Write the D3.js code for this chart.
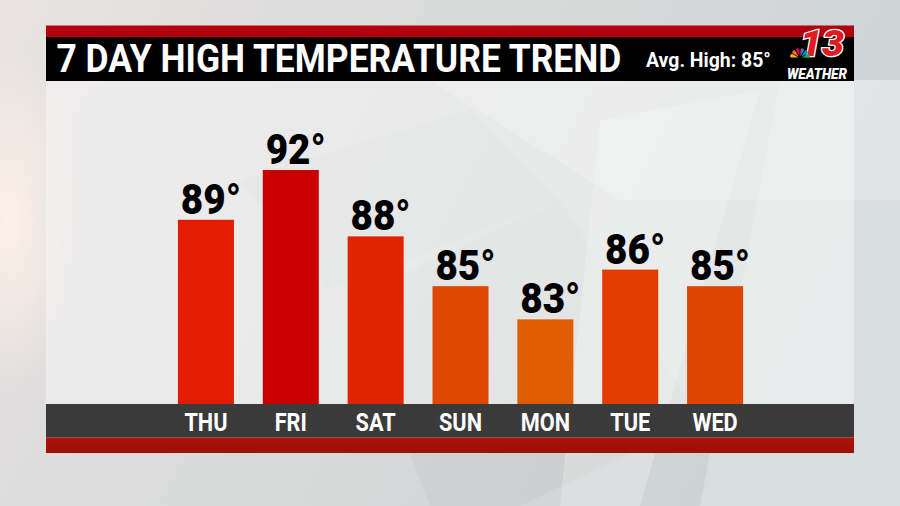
<!DOCTYPE html>
<html><head><meta charset="utf-8">
<script src="https://cdn.jsdelivr.net/npm/d3@7"></script>
<style>html,body{margin:0;padding:0;background:#d6d9d9;overflow:hidden}svg{display:block}</style>
</head><body>
<svg id="chart" width="900" height="506"></svg>
<script>
const days = ["THU", "FRI", "SAT", "SUN", "MON", "TUE", "WED"];
const highs = [89, 92, 88, 85, 83, 86, 85];
const barColors = ["#e21c00", "#c80000", "#e02400", "#e04700", "#e05c00", "#e03b00", "#e04500"];
const titleText = "7 DAY HIGH TEMPERATURE TREND";
const avgHigh = 85;
const logoNumber = "13";
const logoWord = "WEATHER";
const peacockColors = ["#fcb711", "#f37021", "#cc004c", "#6460aa", "#0089d0", "#0db14b"];

const W = 900, H = 506;
const svg = d3.select("#chart");
const defs = svg.append("defs");

// squeeze a text horizontally to a target width (left-anchored at x)
function fitLeft(sel, x, y, width) {
  const len = sel.node().getComputedTextLength();
  const sx = width / len;
  sel.attr("x", 0).attr("y", 0).attr("transform", `translate(${x},${y}) scale(${sx},1)`);
}

// background gradient
const bg = defs.append("linearGradient").attr("id", "bg").attr("x1", 0).attr("y1", 0).attr("x2", 1).attr("y2", 0.3);
bg.append("stop").attr("offset", "0").attr("stop-color", "#e9e4e2");
bg.append("stop").attr("offset", "0.35").attr("stop-color", "#dcdcdc");
bg.append("stop").attr("offset", "1").attr("stop-color", "#cdd3d3");
const glow = defs.append("radialGradient").attr("id", "glow").attr("cx", 0.5).attr("cy", 0.5).attr("r", 0.5);
glow.append("stop").attr("offset", "0").attr("stop-color", "#fff1e8").attr("stop-opacity", 0.95);
glow.append("stop").attr("offset", "1").attr("stop-color", "#fff1e8").attr("stop-opacity", 0);
const redGrad = defs.append("linearGradient").attr("id", "redband").attr("x1", 0).attr("y1", 0).attr("x2", 0).attr("y2", 1);
redGrad.append("stop").attr("offset", "0").attr("stop-color", "#b01208");
redGrad.append("stop").attr("offset", "1").attr("stop-color", "#9a1008");

svg.append("rect").attr("width", W).attr("height", H).attr("fill", "url(#bg)");
svg.append("ellipse").attr("cx", 10).attr("cy", 220).attr("rx", 70).attr("ry", 170).attr("fill", "url(#glow)");

// abstract background planes
const planes = [
  {pts: [[430, 80], [900, 80], [900, 200], [620, 200]], c: "#ffffff", o: 0.25},
  {pts: [[240, 180], [470, 110], [560, 200], [330, 290]], c: "#c9cccc", o: 0.35},
  {pts: [[350, 300], [560, 200], [700, 420], [520, 506], [430, 506]], c: "#bfc3c3", o: 0.3},
  {pts: [[780, 80], [900, 80], [900, 506], [700, 506]], c: "#eef1f1", o: 0.35},
  {pts: [[600, 120], [760, 90], [640, 506], [560, 506]], c: "#ffffff", o: 0.25}
];
svg.append("g").selectAll("polygon").data(planes).join("polygon")
  .attr("points", d => d.pts.map(p => p.join(",")).join(" "))
  .attr("fill", d => d.c).attr("opacity", d => d.o);

// content panel
const panelX0 = 46, panelX1 = 854;
svg.append("rect").attr("x", panelX0).attr("y", 80).attr("width", panelX1 - panelX0).attr("height", 324)
  .attr("fill", "#f6f6f6").attr("opacity", 0.55);

// header
svg.append("rect").attr("x", panelX0).attr("y", 25.5).attr("width", panelX1 - panelX0).attr("height", 12).attr("fill", "#b3000f");
svg.append("rect").attr("x", panelX0).attr("y", 37).attr("width", panelX1 - panelX0).attr("height", 44).attr("fill", "#000000");
const titleSel = svg.append("text")
  .attr("font-family", "Roboto, 'Liberation Sans', sans-serif").attr("font-weight", 700)
  .attr("font-size", 38.5).attr("fill", "#ffffff")
  .text(titleText);
fitLeft(titleSel, 56.5, 72, 565);
const avgSel = svg.append("text")
  .attr("font-family", "Roboto, 'Liberation Sans', sans-serif").attr("font-weight", 700)
  .attr("font-size", 21).attr("fill", "#ffffff")
  .text(`Avg. High: ${avgHigh}°`);
fitLeft(avgSel, 646, 66.5, 125);

// logo
const logo = svg.append("g");
const numSel = logo.append("text")
  .attr("font-family", "Roboto, sans-serif").attr("font-weight", 900).attr("font-style", "italic")
  .attr("font-size", 36).attr("fill", "#e01a22").attr("stroke", "#ffffff").attr("stroke-width", 2.5)
  .attr("paint-order", "stroke")
  .text(logoNumber);
fitLeft(numSel, 800, 56, 44);
const fan = d3.pie().value(1).startAngle(-Math.PI / 2).endAngle(Math.PI / 2).sort(null)(peacockColors);
logo.append("g").attr("transform", "translate(800,58)")
  .selectAll("path").data(fan).join("path")
  .attr("d", d3.arc().innerRadius(2).outerRadius(10).padAngle(0.08).cornerRadius(3))
  .attr("fill", d => d.data);
const wordSel = logo.append("text")
  .attr("font-family", "Roboto, sans-serif").attr("font-weight", 900).attr("font-style", "italic")
  .attr("font-size", 14.5).attr("fill", "#ffffff")
  .text(logoWord);
fitLeft(wordSel, 787, 78.5, 60);

// scales
const x = d3.scaleBand().domain(days).range([163.5, 757.5]).paddingInner(0.34).paddingOuter(0.17);
const y = d3.scaleLinear().domain([77.9, 92]).range([404, 170]);

// bars
svg.append("g").selectAll("rect").data(days).join("rect")
  .attr("x", d => x(d)).attr("width", x.bandwidth())
  .attr("y", (d, i) => y(highs[i])).attr("height", (d, i) => 404 - y(highs[i]))
  .attr("fill", (d, i) => barColors[i]);

// value labels
svg.append("g").selectAll("text").data(days).join("text")
  .attr("transform", (d, i) => `translate(${x(d) + x.bandwidth() / 2 + 5},${y(highs[i]) - 6}) scale(0.9,1)`)
  .attr("text-anchor", "middle")
  .attr("font-family", "Roboto, 'Liberation Sans', sans-serif").attr("font-weight", 900)
  .attr("font-size", 43).attr("fill", "#000000")
  .text((d, i) => `${highs[i]}°`);

// bottom bands
svg.append("rect").attr("x", panelX0).attr("y", 404).attr("width", panelX1 - panelX0).attr("height", 33.5).attr("fill", "#3a3a3a");
svg.append("rect").attr("x", panelX0).attr("y", 437.5).attr("width", panelX1 - panelX0).attr("height", 15.5).attr("fill", "url(#redband)");

// day axis labels
const axisG = svg.append("g").attr("transform", "translate(0,431)")
  .call(d3.axisBottom(x).tickSize(0).tickPadding(0));
axisG.select(".domain").remove();
axisG.selectAll(".tick text")
  .attr("y", 0).attr("dy", 0)
  .attr("font-family", "Roboto, 'Liberation Sans', sans-serif").attr("font-weight", 700)
  .attr("font-size", 26.5).attr("fill", "#ffffff")
  .attr("transform", "scale(0.82,1)");
</script>
</body></html>
